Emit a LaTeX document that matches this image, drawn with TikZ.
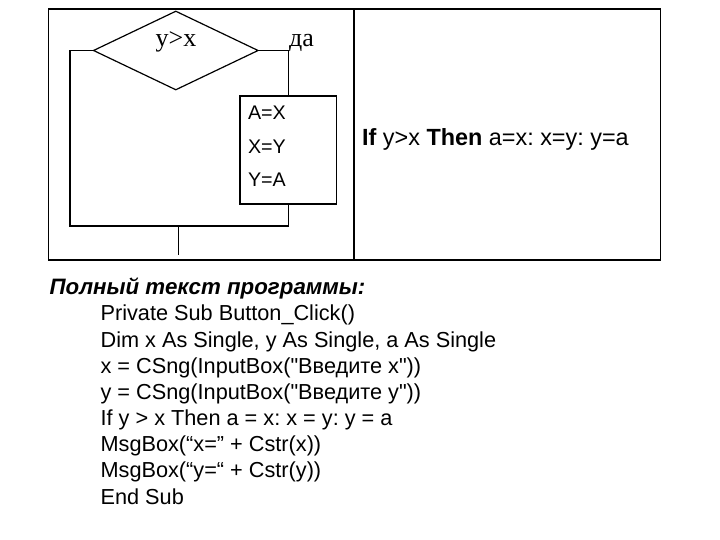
\documentclass[tikz,border=0pt]{standalone}
\usepackage{fontspec}
\setmainfont{Liberation Sans}[Ligatures=TeXOff]
\newfontfamily\timesf{Liberation Serif}
\usetikzlibrary{shapes.geometric}
\begin{document}
\frenchspacing
\begin{tikzpicture}[x=1pt,y=-1pt,line width=1.2pt,
  frame/.style={draw,line width=1.2pt},
  arial/.style={inner sep=0pt,anchor=base west,font=\frenchspacing\fontsize{21.7}{26}\selectfont},
  boxtxt/.style={inner sep=0pt,anchor=base west,font=\fontsize{19.7}{24}\selectfont},
  serif/.style={inner sep=0pt,anchor=base west,font=\timesf\fontsize{26}{30}\selectfont}]
\useasboundingbox (0,0) rectangle (720,540);
% frame
\draw[frame] (48.5,9) rectangle (660.5,260);
\draw[frame] (354,9) -- (354,260);
% flowchart
\node[diamond,draw,inner sep=0pt,minimum width=165pt,minimum height=79pt] (cond) at (175.8,50.5) {};
\node[serif] (ctext) at (155,46.7) {y>x};
\node[serif] (yes) at (288.5,46.7) {да};
\node[draw,inner sep=0pt,minimum width=96.7pt,minimum height=108pt] (box) at (288.35,150) {};
\node[boxtxt] (b1) at (247.5,119.3) {A=X};
\node[boxtxt] (b2) at (247.5,153.5) {X=Y};
\node[boxtxt] (b3) at (247.5,187) {Y=A};
\coordinate (jl) at (70,226);
\coordinate (mid) at (178.3,226);
\coordinate (out) at (178.3,254.5);
\draw (cond.east) -| (box.north);
\draw (box.south) |- (jl) |- (cond.west);
\draw (mid) -- (out);
% right text
\node[inner sep=0pt,anchor=base west,font=\frenchspacing\fontsize{23.4}{26}\selectfont] (vb) at (361.5,146) {\textbf{If} y>x \textbf{Then} a=x: x=y: y=a};
% program text
\node[arial,font=\fontsize{22.3}{26}\selectfont] (title) at (49,294) {\bfseries\itshape Полный текст программы:};
\node[arial] (l1) at (100,320.8) {Private Sub Button\_Click()};
\node[arial] (l2) at (100,347) {Dim x As Single, y As Single, a As Single};
\node[arial] (l3) at (100,373.1) {x = CSng(InputBox("Введите x"))};
\node[arial] (l4) at (100,399.3) {y = CSng(InputBox("Введите y"))};
\node[arial] (l5) at (100,425.5) {If y > x Then a = x: x = y: y = a};
\node[arial] (l6) at (100,451.6) {MsgBox(“x=” + Cstr(x))};
\node[arial] (l7) at (100,477.8) {MsgBox(“y=“ + Cstr(y))};
\node[arial] (l8) at (100,504) {End Sub};
\end{tikzpicture}
\end{document}
